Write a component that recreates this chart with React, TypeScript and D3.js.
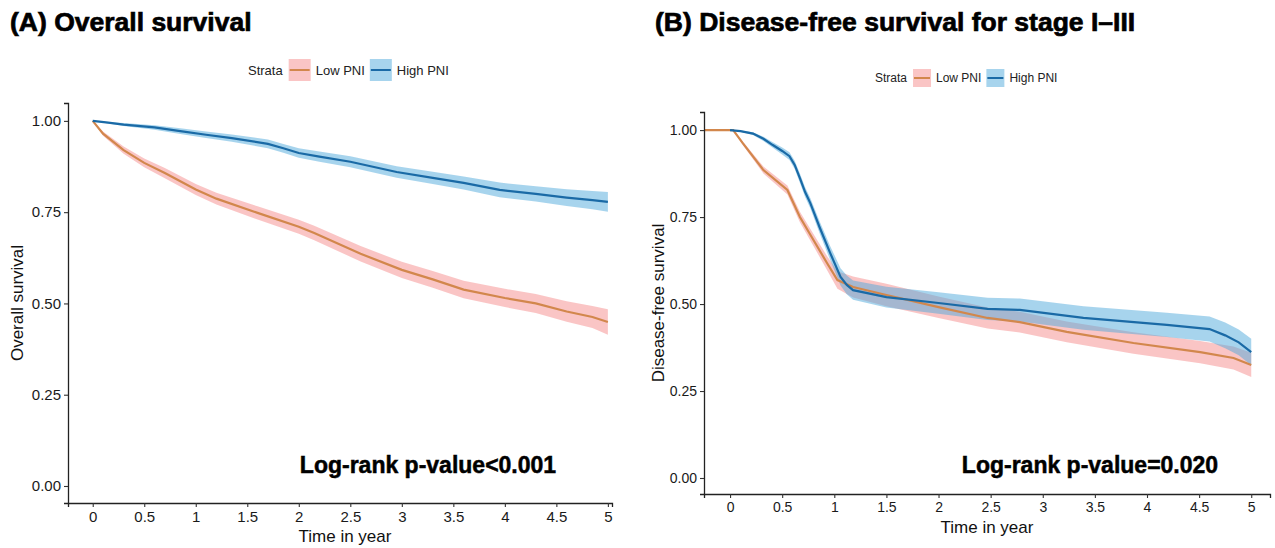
import React, { useEffect, useRef } from 'react';
import * as d3 from 'd3';

// ---- data ----
const xTicks = [0, 0.5, 1, 1.5, 2, 2.5, 3, 3.5, 4, 4.5, 5];
const yTicks = [0, 0.25, 0.5, 0.75, 1];
const yTickLabels = ['0.00', '0.25', '0.50', '0.75', '1.00'];
const strata = ['Low PNI', 'High PNI'];

// (A) overall survival
const timeA_low = [0, 0.1, 0.3, 0.5, 0.7, 1.0, 1.2, 1.6, 2.0, 2.15, 2.6, 3.0, 3.3, 3.6, 4.0, 4.3, 4.6, 4.85, 5.0];
const survA_low = [1.0, 0.965, 0.92, 0.885, 0.857, 0.812, 0.787, 0.748, 0.71, 0.693, 0.636, 0.592, 0.566, 0.538, 0.515, 0.5, 0.478, 0.463, 0.449];
const ciA_low = [0, 0.006, 0.01, 0.012, 0.014, 0.015, 0.016, 0.018, 0.019, 0.02, 0.021, 0.022, 0.023, 0.024, 0.025, 0.026, 0.028, 0.03, 0.035];

const timeA_high = [0, 0.15, 0.3, 0.6, 0.85, 1.1, 1.35, 1.7, 1.85, 2.0, 2.2, 2.5, 2.95, 3.3, 3.6, 3.95, 4.3, 4.6, 4.85, 5.0];
const survA_high = [1.0, 0.995, 0.99, 0.982, 0.972, 0.962, 0.953, 0.937, 0.925, 0.912, 0.902, 0.888, 0.86, 0.844, 0.83, 0.811, 0.8, 0.79, 0.783, 0.778];
const ciA_high = [0, 0.002, 0.004, 0.006, 0.008, 0.009, 0.01, 0.012, 0.012, 0.013, 0.014, 0.015, 0.016, 0.017, 0.018, 0.02, 0.021, 0.023, 0.025, 0.027];

// (B) disease-free survival
const timeB_low = [-0.25, 0.03, 0.12, 0.32, 0.55, 0.67, 0.8, 0.93, 1.03, 1.18, 1.5, 2.0, 2.47, 2.78, 3.23, 3.87, 4.51, 4.83, 5.0];
const survB_low = [1, 1, 0.963, 0.885, 0.828, 0.75, 0.684, 0.618, 0.569, 0.549, 0.526, 0.491, 0.46, 0.448, 0.42, 0.388, 0.362, 0.345, 0.325];
const ciB_low = [0, 0, 0.005, 0.01, 0.013, 0.015, 0.017, 0.02, 0.025, 0.03, 0.032, 0.031, 0.03, 0.03, 0.03, 0.031, 0.032, 0.033, 0.035];

const timeB_high = [0, 0.1, 0.22, 0.32, 0.41, 0.5, 0.57, 0.62, 0.67, 0.72, 0.77, 0.86, 0.96, 1.06, 1.12, 1.18, 1.5, 2.0, 2.47, 2.78, 3.39, 4.19, 4.6, 4.75, 4.88, 5.0];
const survB_high = [1, 0.997, 0.99, 0.975, 0.957, 0.94, 0.925, 0.9, 0.862, 0.822, 0.79, 0.72, 0.647, 0.578, 0.555, 0.54, 0.52, 0.503, 0.486, 0.483, 0.46, 0.44, 0.428, 0.41, 0.39, 0.362];
const ciB_high = [0, 0.002, 0.004, 0.006, 0.008, 0.01, 0.011, 0.012, 0.013, 0.014, 0.015, 0.017, 0.02, 0.025, 0.027, 0.028, 0.03, 0.031, 0.032, 0.033, 0.034, 0.035, 0.036, 0.037, 0.037, 0.038];

const lineColors = ['#D2874C', '#1A6AA6'];
const bandColors = ['rgba(246,150,150,0.55)', 'rgba(80,170,220,0.5)'];
const FONT = "'Liberation Sans', Arial, sans-serif";

const zip = (t, s, c) => t.map((d, i) => ({ t: d, s: s[i], ci: c[i] }));

function drawPanel(svg, p) {
  const x = d3.scaleLinear().domain(p.xDomain).range(p.xRange);
  const y = d3.scaleLinear().domain(p.yDomain).range(p.yRange);
  const g = svg.append('g');

  // title
  g.append('text')
    .attr('x', p.titleX).attr('y', 31)
    .attr('font-family', FONT).attr('font-weight', 'bold').attr('font-size', 26.5)
    .attr('stroke', '#000').attr('stroke-width', 0.7)
    .text(p.title);

  // legend
  const lg = g.append('g').attr('transform', `translate(${p.legendX},${p.legendY})`)
    .attr('font-family', FONT).attr('font-size', p.legendSize).attr('fill', '#222');
  const st = lg.append('text').attr('x', 0).attr('y', 0).attr('dy', '0.35em').text('Strata');
  let cx = st.node().getComputedTextLength() + 6;
  strata.forEach((name, i) => {
    lg.append('rect').attr('x', cx).attr('y', -p.keySize / 2)
      .attr('width', p.keySize).attr('height', p.keySize).attr('fill', bandColors[i]);
    lg.append('line').attr('x1', cx + 1).attr('x2', cx + p.keySize - 1)
      .attr('y1', 0).attr('y2', 0).attr('stroke', lineColors[i]).attr('stroke-width', 2);
    const tx = lg.append('text').attr('x', cx + p.keySize + 5).attr('y', 0).attr('dy', '0.35em').text(name);
    cx += p.keySize + 5 + tx.node().getComputedTextLength() + 5;
  });

  // confidence bands + curves
  const area = d3.area()
    .x(d => x(d.t))
    .y0(d => y(Math.max(0, d.s - d.ci)))
    .y1(d => y(Math.min(1, d.s + d.ci)));
  const line = d3.line().x(d => x(d.t)).y(d => y(d.s));
  p.series.forEach((s, i) => {
    g.append('path').datum(s).attr('d', area).attr('fill', bandColors[i]);
  });
  p.series.forEach((s, i) => {
    g.append('path').datum(s).attr('d', line).attr('fill', 'none')
      .attr('stroke', lineColors[i]).attr('stroke-width', 2.2);
  });

  // axes
  const xa = g.append('g').attr('transform', `translate(0,${p.yRange[0]})`)
    .call(d3.axisBottom(x).tickValues(xTicks).tickFormat(d => String(d)).tickSizeOuter(0).tickSize(4).tickPadding(4));
  const ya = g.append('g').attr('transform', `translate(${p.xRange[0]},0)`)
    .call(d3.axisLeft(y).tickValues(yTicks).tickFormat((d, i) => yTickLabels[i]).tickSizeOuter(0).tickSize(4).tickPadding(3));
  [xa, ya].forEach(a => {
    a.selectAll('path').attr('stroke', '#222').attr('stroke-width', 1.3);
    a.selectAll('line').attr('stroke', '#333').attr('stroke-width', 1.1);
    a.selectAll('text').attr('font-family', FONT).attr('font-size', p.tickSize).attr('fill', '#1a1a1a');
  });

  // axis titles
  g.append('text').attr('x', p.xTitleX).attr('y', p.xTitleY).attr('text-anchor', 'middle')
    .attr('font-family', FONT).attr('font-size', 17).attr('fill', '#111').text('Time in year');
  g.append('text').attr('transform', `translate(${p.yTitleX},${p.yTitleY}) rotate(-90)`)
    .attr('text-anchor', 'middle').attr('font-family', FONT).attr('font-size', 17).attr('fill', '#111')
    .text(p.yTitle);

  // log-rank annotation
  g.append('text').attr('x', p.pX).attr('y', 473).attr('text-anchor', 'middle')
    .attr('font-family', FONT).attr('font-weight', 'bold').attr('font-size', 23)
    .attr('stroke', '#000').attr('stroke-width', 0.5)
    .text(p.pText);
}

const App = () => {
  const svgRef = useRef();

  useEffect(() => {
    const svg = d3.select(svgRef.current);
    svg.selectAll('*').remove();

    drawPanel(svg, {
      title: '(A) Overall survival', titleX: 10,
      legendX: 248, legendY: 70, legendSize: 13, keySize: 22,
      xDomain: [-0.24, 5.04], xRange: [68, 612],
      yDomain: [-0.0466, 1.049], yRange: [503, 103],
      tickSize: 15,
      xTitleX: 345, xTitleY: 542,
      yTitle: 'Overall survival', yTitleX: 23, yTitleY: 303,
      pX: 428, pText: 'Log-rank p-value<0.001',
      series: [zip(timeA_low, survA_low, ciA_low), zip(timeA_high, survA_high, ciA_high)],
    });

    drawPanel(svg, {
      title: '(B) Disease-free survival for stage I\u2013III', titleX: 655,
      legendX: 875, legendY: 78, legendSize: 12, keySize: 18,
      xDomain: [-0.25, 5.18], xRange: [704, 1270],
      yDomain: [-0.046, 1.052], yRange: [494, 112],
      tickSize: 14,
      xTitleX: 987, xTitleY: 533,
      yTitle: 'Disease-free survival', yTitleX: 664, yTitleY: 303,
      pX: 1090, pText: 'Log-rank p-value=0.020',
      series: [zip(timeB_low, survB_low, ciB_low), zip(timeB_high, survB_high, ciB_high)],
    });
  }, []);

  return (
    <svg ref={svgRef} width={1275} height={548}
      style={{ position: 'absolute', left: 0, top: 0, background: '#fff' }}></svg>
  );
};

export default App;
